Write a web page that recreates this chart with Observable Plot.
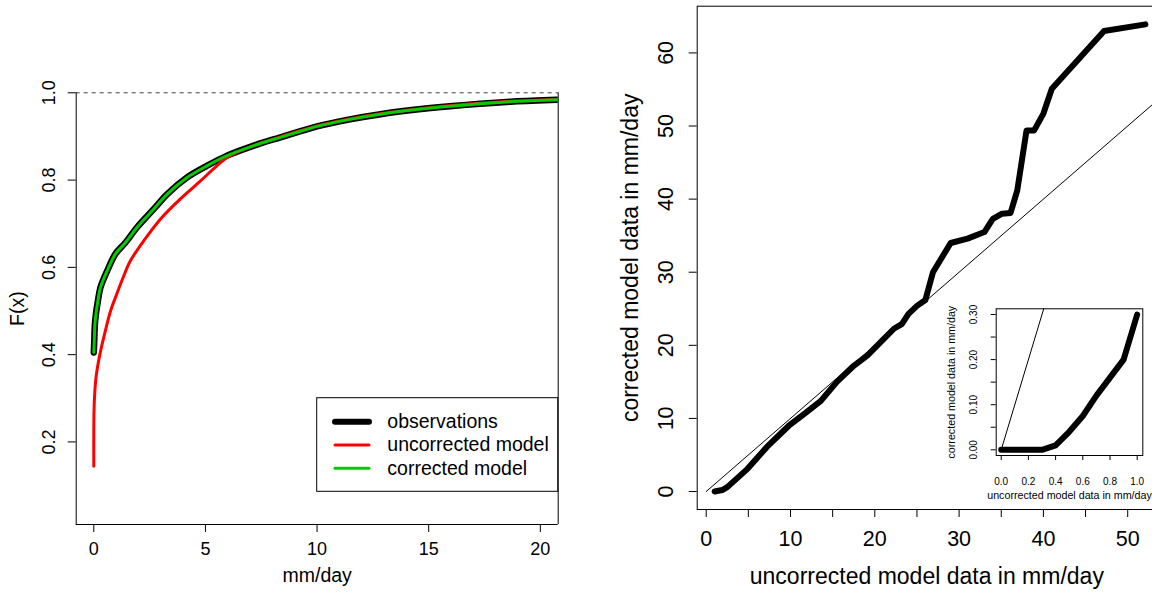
<!DOCTYPE html>
<html>
<head>
<meta charset="utf-8">
<script src="https://cdn.jsdelivr.net/npm/d3@7"></script>
<script src="https://cdn.jsdelivr.net/npm/@observablehq/plot@0.6"></script>
<style>
  body { margin: 0; background: #fff; }
  #chart { position: relative; width: 1152px; height: 594px; overflow: hidden; background: #fff; }
  #chart svg { position: absolute; left: 0; top: 0; }
</style>
</head>
<body>
<div id="chart"></div>
<script>
// ---- Left panel: empirical CDFs of daily precipitation (mm/day) ----
const obsX  = [0, 0.02, 0.05, 0.10, 0.18, 0.30, 0.60, 0.97, 1.42, 1.94, 2.69, 3.29, 4.18, 5.08, 5.97, 7.17, 8.36, 9.26, 10.0, 11.35, 12.84, 15.08, 17.30, 18.80, 20.80, 21.50];
const obsF  = [0.405, 0.43, 0.47, 0.495, 0.522, 0.554, 0.592, 0.631, 0.657, 0.692, 0.734, 0.768, 0.806, 0.833, 0.856, 0.879, 0.898, 0.912, 0.923, 0.938, 0.951, 0.965, 0.975, 0.980, 0.984, 0.985];

const uncX  = [0, 0, 0.01, 0.03, 0.10, 0.27, 0.52, 0.75, 1.00, 1.30, 1.64, 2.24, 2.99, 3.88, 4.78, 5.37, 5.97, 7.17, 8.36, 9.26, 10.0, 11.35, 12.84, 15.08, 17.30, 18.80, 20.80, 21.50];
const uncF  = [0.144, 0.22, 0.27, 0.30, 0.348, 0.40, 0.455, 0.50, 0.535, 0.575, 0.615, 0.661, 0.711, 0.757, 0.798, 0.826, 0.852, 0.879, 0.899, 0.913, 0.924, 0.939, 0.952, 0.966, 0.976, 0.981, 0.985, 0.986];

const corX  = [0, 0.02, 0.05, 0.10, 0.18, 0.30, 0.60, 0.97, 1.42, 1.94, 2.69, 3.29, 4.18, 5.08, 5.97, 7.17, 8.36, 9.26, 10.0, 11.35, 12.84, 15.08, 17.30, 18.80, 20.80, 21.50];
const corF  = [0.405, 0.43, 0.47, 0.495, 0.522, 0.554, 0.592, 0.631, 0.657, 0.692, 0.734, 0.768, 0.806, 0.833, 0.856, 0.879, 0.898, 0.912, 0.923, 0.938, 0.951, 0.965, 0.975, 0.980, 0.984, 0.985];

const cdfXTicks = [0, 5, 10, 15, 20];
const cdfYTicks = [0.2, 0.4, 0.6, 0.8, 1.0];

const legendLabels = ["observations", "uncorrected model", "corrected model"];
const legendColors = ["black", "#ff0000", "#00cd00"];
const legendWidths = [6, 3, 3];

// ---- Right panel: transfer function, uncorrected vs corrected model ----
const tfX = [1.0, 1.9, 2.5, 4.9, 7.2, 9.8, 11.6, 13.6, 15.5, 17.5, 19.1, 21.1, 22.3, 23.2, 24.0, 25.0, 26.0, 26.9, 29.0, 31.0, 33.0, 34.0, 35.1, 36.1, 36.9, 38.0, 38.9, 40.0, 41.0, 47.2, 52.1];
const tfY = [0.0, 0.2, 0.6, 3.1, 6.1, 9.0, 10.6, 12.4, 15.0, 17.2, 18.6, 20.9, 22.3, 22.9, 24.3, 25.4, 26.2, 30.0, 34.0, 34.6, 35.5, 37.3, 38.0, 38.1, 41.2, 49.4, 49.4, 51.7, 55.1, 63.0, 63.9];
const tfXTicks = [0, 5, 10, 15, 20, 25, 30, 35, 40, 45, 50];
const tfXLabels = [0, 10, 20, 30, 40, 50];
const tfYTicks = [0, 10, 20, 30, 40, 50, 60];

// ---- Inset: the same transfer function near zero ----
const zoomX = [0, 0.1, 0.2, 0.3, 0.4, 0.5, 0.6, 0.7, 0.8, 0.9, 1.0];
const zoomY = [0, 0, 0, 0, 0.01, 0.04, 0.075, 0.12, 0.16, 0.20, 0.30];
const zoomXTicks = [0, 0.2, 0.4, 0.6, 0.8, 1.0];
const zoomYTicks = [0, 0.05, 0.10, 0.15, 0.20, 0.25, 0.30];
const zoomYLabels = [0, 0.10, 0.20, 0.30];

const FONT = '"Liberation Sans", Arial, Helvetica, sans-serif';
const zip = (xs, ys) => xs.map((x, i) => ({x, y: ys[i]}));
const style = (size) => ({background: "none", maxWidth: "none", fontFamily: FONT, fontSize: size + "px", color: "black"});
const root = document.getElementById("chart");

// Left panel
const cdfX = [-0.788, 20.8];
const cdfY = [0.0108, 1];
const left = Plot.plot({
  width: 1152, height: 594,
  marginLeft: 75.7, marginRight: 1152 - 557.7, marginTop: 92.3, marginBottom: 70,
  x: {domain: cdfX}, y: {domain: cdfY},
  style: style(19.5),
  marks: [
    Plot.ruleY([1], {stroke: "#444", strokeWidth: 1, strokeDasharray: "4,4"}),
    Plot.ruleX(cdfX, {stroke: "black", strokeWidth: 1}),
    Plot.ruleY([cdfY[0]], {stroke: "black", strokeWidth: 1}),
    Plot.line(zip(obsX, obsF), {x: "x", y: "y", stroke: "black", strokeWidth: 6.5, curve: "catmull-rom", clip: true}),
    Plot.line(zip(uncX, uncF), {x: "x", y: "y", stroke: "#ff0000", strokeWidth: 3, curve: "catmull-rom", clip: true}),
    Plot.line(zip(corX, corF), {x: "x", y: "y", stroke: "#00cd00", strokeWidth: 3, curve: "catmull-rom", clip: true}),
    Plot.axisX({ticks: cdfXTicks, tickSize: 8, tickFormat: () => "", label: null}),
    Plot.text(cdfXTicks, {x: d => d, text: d => String(d), frameAnchor: "bottom", dy: 24.3, lineAnchor: "middle", fontSize: 18}),
    Plot.axisY({ticks: cdfYTicks, tickSize: 8, tickFormat: () => "", label: null}),
    Plot.text(cdfYTicks, {y: d => d, text: d => d.toFixed(1), frameAnchor: "left", textAnchor: "middle", dx: -27.4, rotate: -90, lineAnchor: "middle", fontSize: 18}),
    Plot.text(["mm/day"], {frameAnchor: "bottom", dy: 51, lineAnchor: "middle"}),
    Plot.text(["F(x)"], {frameAnchor: "left", textAnchor: "middle", dx: -58.7, rotate: -90, lineAnchor: "middle"})
  ]
});
root.appendChild(left);

// Legend of the left panel
const leg = d3.select(root).append("svg")
  .attr("width", 1152).attr("height", 594)
  .style("font-family", FONT).style("font-size", "19.5px");
leg.append("rect")
  .attr("x", 316.7).attr("y", 397.7).attr("width", 241).attr("height", 93.6)
  .attr("fill", "white").attr("stroke", "black").attr("stroke-width", 1);
const rowY = [421.7, 445, 468.3];
legendLabels.forEach((lab, i) => {
  leg.append("line")
    .attr("x1", 335).attr("x2", 369).attr("y1", rowY[i]).attr("y2", rowY[i])
    .attr("stroke", legendColors[i]).attr("stroke-width", legendWidths[i]).attr("stroke-linecap", "round");
  leg.append("text")
    .attr("x", 387.3).attr("y", rowY[i]).attr("dy", "0.32em").text(lab);
});

// Right panel
const tfXDom = [-1.068, 53.416];
const tfYDom = [-2.46, 66.39];
const right = Plot.plot({
  width: 1160, height: 594,
  marginLeft: 696.7, marginRight: 4, marginTop: 5.7, marginBottom: 85,
  x: {domain: tfXDom}, y: {domain: tfYDom},
  style: style(23),
  marks: [
    Plot.frame({stroke: "black", strokeWidth: 1}),
    Plot.line([{x: 0, y: 0}, {x: 70, y: 70}], {x: "x", y: "y", stroke: "black", strokeWidth: 1, clip: true}),
    Plot.line(zip(tfX, tfY), {x: "x", y: "y", stroke: "black", strokeWidth: 6, clip: true}),
    Plot.axisX({ticks: tfXTicks, tickSize: 8, tickFormat: () => "", label: null}),
    Plot.text(tfXLabels, {x: d => d, text: d => String(d), frameAnchor: "bottom", dy: 29.3, lineAnchor: "middle", fontSize: 21.5}),
    Plot.axisY({ticks: tfYTicks, tickSize: 8, tickFormat: () => "", label: null}),
    Plot.text(tfYTicks, {y: d => d, text: d => String(d), frameAnchor: "left", textAnchor: "middle", dx: -30.7, rotate: -90, lineAnchor: "middle", fontSize: 21.5}),
    Plot.text(["uncorrected model data in mm/day"], {frameAnchor: "bottom", dy: 67, lineAnchor: "middle"}),
    Plot.text(["corrected model data in mm/day"], {frameAnchor: "left", textAnchor: "middle", dx: -66.7, rotate: -90, lineAnchor: "middle"})
  ]
});
root.appendChild(right);

// Inset
const inset = Plot.plot({
  width: 1152, height: 594,
  marginLeft: 995.7, marginRight: 1152 - 1142.3, marginTop: 308.3, marginBottom: 594 - 455,
  x: {domain: [-0.0368, 1.0412]}, y: {domain: [-0.01264, 0.31264]},
  style: style(10.7),
  marks: [
    Plot.frame({fill: "white", stroke: "black", strokeWidth: 1}),
    Plot.line([{x: 0, y: 0}, {x: 1, y: 1}], {x: "x", y: "y", stroke: "black", strokeWidth: 1, clip: true}),
    Plot.line(zip(zoomX, zoomY), {x: "x", y: "y", stroke: "black", strokeWidth: 6, clip: true}),
    Plot.axisX({ticks: zoomXTicks, tickSize: 5, tickFormat: () => "", label: null}),
    Plot.text(zoomXTicks, {x: d => d, text: d => d.toFixed(1), frameAnchor: "bottom", dy: 26, lineAnchor: "middle", fontSize: 10}),
    Plot.axisY({ticks: zoomYTicks, tickSize: 5, tickFormat: () => "", label: null}),
    Plot.text(zoomYLabels, {y: d => d, text: d => d.toFixed(2), frameAnchor: "left", textAnchor: "middle", dx: -22.7, rotate: -90, lineAnchor: "middle", fontSize: 10}),
    Plot.text(["uncorrected model data in mm/day"], {frameAnchor: "bottom", dy: 40.5, lineAnchor: "middle"}),
    Plot.text(["corrected model data in mm/day"], {frameAnchor: "left", textAnchor: "middle", dx: -44.7, rotate: -90, lineAnchor: "middle"})
  ]
});
root.appendChild(inset);
</script>
</body>
</html>
